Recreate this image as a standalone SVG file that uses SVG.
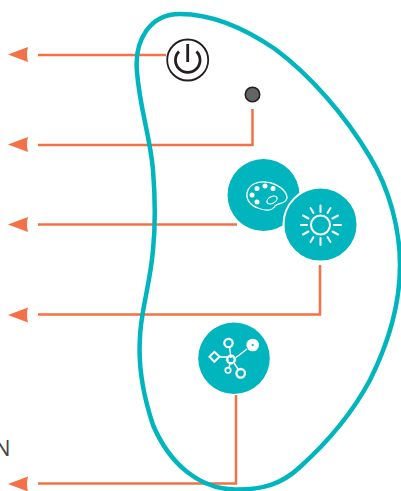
<svg xmlns="http://www.w3.org/2000/svg" width="401" height="491" viewBox="0 0 401 491">
<style>
.conn{fill:none;stroke:#f47046;stroke-width:2.500}
.head{fill:#f47046}
.disc{fill:#00b5bd}
.ic{fill:none;stroke:#fff;stroke-width:2;stroke-linecap:round}
.icw{fill:#fff}
</style>
<rect width="401" height="491" fill="#fff"/>
<g id="connectors">
<path class="conn" d="M38 55H166"/><path class="head" d="M8 54.500L28 47Q26 54.500 28 62Z"/>
<path class="conn" d="M38 145H252.500V109"/><path class="head" d="M8 144.500L28 137Q26 144.500 28 152Z"/>
<path class="conn" d="M38 224.500H237"/><path class="head" d="M8 224.500L28 217Q26 224.500 28 232Z"/>
<path class="conn" d="M38 314.500H320V265"/><path class="head" d="M8 315L28 307.500Q26 315 28 322.500Z"/>
<path class="conn" d="M38 483.500H236V395"/><path class="head" d="M8 484L28 476.500Q26 484 28 491.500Z"/>
</g>
<g id="body"><path d="M137 72C134 40 150 14 180 14C215 14 250 32 275 49C310 75 345 115 370 157C390 190 400 230 400 265C400 300 390 340 370 380C355 408 330 440 300 467C282 484 262 490 235 489.500C200 489 170 465 153 425C143 395 138 365 140 337C141 310 150 285 153 250C156 220 155 195 153 170C150 135 140 110 137 72Z" fill="none" stroke="#00b5bd" stroke-width="4.500"/></g>
<g id="power">
<circle cx="187.700" cy="60" r="20.500" fill="#fff" stroke="#231f20" stroke-width="1.800"/>
<path d="M179 51.500A12.300 12.300 0 1 0 196.500 51.500" fill="none" stroke="#231f20" stroke-width="2.800"/>
<path d="M187.700 44V62" stroke="#231f20" stroke-width="2.800" fill="none"/>
</g>
<g id="led"><circle cx="252.500" cy="94.500" r="7.200" fill="#636466" stroke="#231f20" stroke-width="1.600"/></g>
<g id="palette">
<circle class="disc" cx="263.500" cy="195" r="36"/>
<path d="M247 193C249 184 258 181 266 182C276 183 287 190 287 198C286 204 278 203 275 206C272 211 265 211 258 208C251 206 246 200 247 193Z" fill="none" stroke="#fff" stroke-width="1.300"/>
<circle class="icw" cx="252" cy="195" r="2.500"/><circle class="icw" cx="257" cy="188.500" r="2.500"/><circle class="icw" cx="265" cy="186" r="2.500"/><circle class="icw" cx="273" cy="188.500" r="2.500"/><circle class="icw" cx="257" cy="202" r="2.500"/>
<ellipse cx="272" cy="200" rx="5.500" ry="3.300" transform="rotate(-28 272 200)" fill="none" stroke="#fff" stroke-width="1.200"/>
</g>
<g id="brightness">
<circle class="disc" cx="320.500" cy="224.500" r="37" stroke="#fff" stroke-width="2"/>
<circle class="ic" cx="320.500" cy="225" r="9.500"/>
<path class="ic" d="M320.500 205.500V212M320.500 238V245M301 225H307M334 225H341M310.500 208L313.500 213M327.500 237L330.500 242M303 215.500L308.500 218.500M332.500 231.500L338 234.500M303 234.500L308.500 231.500M332.500 218.500L338 215.500M310.500 242L313.500 237M327.500 213L330.500 208"/>
</g>
<g id="network">
<circle class="disc" cx="234" cy="358.300" r="35.800"/>
<path d="M229.500 347L231 358M219 357H227M247 349L236 357.500M234 363L238 369M230 364L229 367.500" fill="none" stroke="#fff" stroke-width="1.400"/>
<circle cx="228.500" cy="343" r="4.200" fill="none" stroke="#fff" stroke-width="2.200"/>
<circle cx="252.700" cy="345" r="6.300" class="icw"/><circle cx="252.700" cy="345" r="1.100" fill="#00b5bd"/>
<circle cx="231" cy="359.500" r="3.800" fill="none" stroke="#fff" stroke-width="2.400"/>
<path d="M214.300 351.800L219.500 356.800L214.300 361.800L209.500 356.800Z" fill="none" stroke="#fff" stroke-width="2"/>
<circle cx="228" cy="370.300" r="2.700" fill="none" stroke="#fff" stroke-width="1.700"/>
<circle cx="240.700" cy="373.300" r="4.300" fill="none" stroke="#fff" stroke-width="2.300"/>
</g>
<text x="-6" y="456" font-family="'Open Sans',sans-serif" font-weight="400" font-size="22" fill="#3a3a3a" opacity="0.95">N</text>
</svg>
